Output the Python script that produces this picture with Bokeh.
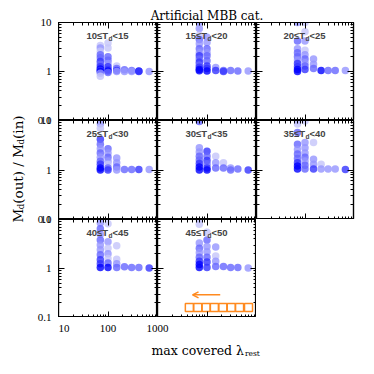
import math
from bokeh.plotting import figure
from bokeh.layouts import row, column
from bokeh.models import (LogAxis, FixedTicker, Range1d, Arrow, OpenHead, Label,
                          CustomJSTickFormatter)
from bokeh.core.properties import value
from bokeh.embed import file_html
from bokeh.resources import INLINE

# ---------------- data ----------------
title_text = "Artificial MBB cat."
td_lo = [10, 15, 20, 25, 30, 35, 40, 45]
td_hi = [15, 20, 25, 30, 35, 40, 45, 50]
lam = [70, 100, 150, 215, 300, 420, 680]   # max covered rest wavelength of each column
y_tick_vals = [10, 1, 0.1]
y_tick_text = ["10", "1", "0.1"]
x_tick_vals = [10, 100, 1000]
x_tick_text = ["10", "100", "1000"]

# per panel: one list of M_d(out)/M_d(in) per lam column, and shade index per point
p1_y = [[3.4, 3.0, 2.6, 2.2, 1.9, 1.6, 1.4, 1.25, 1.12, 1.05, 1.0, 0.92, 0.8],
        [3.8, 3.0, 2.0, 1.7, 1.45, 1.25, 1.1, 1.02, 0.95],
        [1.3, 1.15, 1.05, 1.0], [1.08, 1.0], [1.05, 1.0], [1.02, 1.0], [1.0]]
p1_s = [[4, 3, 4, 2, 2, 1, 2, 1, 0, 1, 0, 3, 4], [4, 4, 2, 2, 3, 1, 1, 0, 2],
        [4, 2, 1, 3], [2, 3], [2, 3], [0, 1], [3]]

p2_y = [[10.3, 7.5, 5.5, 4.5, 3.7, 2.9, 2.4, 2.1, 1.8, 1.55, 1.35, 1.22, 1.1, 1.04],
        [5.0, 3.9, 2.9, 2.4, 2.1, 1.65, 1.3, 1.15, 1.02],
        [1.2, 1.05], [1.05, 1.0], [1.05], [1.02], [1.02]]
p2_s = [[3, 3, 4, 2, 3, 2, 3, 1, 2, 1, 2, 1, 0, 0], [3, 3, 2, 3, 2, 2, 1, 1, 0],
        [3, 1], [2, 1], [2], [2], [3]]

p3_y = [[10.0, 4.2, 2.9, 2.4, 2.0, 1.7, 1.45, 1.25, 1.1, 1.0],
        [10.0, 6.5, 4.2, 2.7, 2.2, 1.8, 1.5, 1.3, 1.1],
        [1.8, 1.4, 1.15], [1.05], [1.05], [1.05], [1.05]]
p3_s = [[3, 2, 3, 2, 2, 3, 1, 1, 0, 0], [4, 4, 3, 4, 3, 2, 3, 2, 1],
        [3, 3, 2], [0], [2], [2], [3]]

p4_y = [[8.6, 7.0, 4.2, 3.3, 2.7, 2.2, 1.8, 1.5, 1.3, 1.1, 1.0],
        [2.7, 2.2, 1.8, 1.5, 1.3, 1.1, 1.0],
        [1.75, 1.4, 1.15, 1.0], [1.02], [1.02], [1.02], [1.02]]
p4_s = [[3, 4, 1, 2, 3, 2, 3, 2, 1, 0, 0], [2, 3, 2, 3, 4, 2, 1],
        [3, 3, 2, 3], [2], [2], [1], [3]]

p5_y = [[9.5, 2.8, 2.3, 1.9, 1.6, 1.35, 1.15, 1.0],
        [2.4, 1.9, 1.55, 1.3, 1.1, 1.0],
        [1.9, 1.4, 1.1], [1.4, 1.1], [1.1, 1.0], [1.05], [1.0]]
p5_s = [[2, 3, 3, 2, 2, 1, 0, 0], [1, 2, 1, 2, 1, 0],
        [4, 3, 2], [4, 2], [3, 2], [2], [1]]

p6_y = [[10.0, 8.5, 5.7, 3.3, 2.6, 2.1, 1.7, 1.4, 1.2, 1.05],
        [9.8, 3.6, 2.8, 2.2, 1.8, 1.5, 1.25, 1.05],
        [3.6, 1.65, 1.3, 1.05], [1.3, 1.05], [1.05], [1.05], [1.02]]
p6_s = [[3, 4, 2, 2, 3, 2, 2, 1, 0, 0], [4, 3, 3, 3, 2, 3, 2, 2],
        [4, 3, 3, 1], [4, 3], [3], [3], [1]]

p7_y = [[8.5, 6.5, 5.0, 3.8, 3.0, 2.4, 1.9, 1.5, 1.25, 1.05],
        [8.2, 3.5, 2.6, 2.0, 1.6, 1.3, 1.05],
        [2.9, 1.55, 1.25, 1.05], [1.08], [1.05], [1.05], [1.02]]
p7_s = [[3, 2, 3, 2, 3, 3, 2, 1, 1, 0], [4, 3, 4, 3, 4, 2, 0],
        [4, 4, 3, 2], [2], [2], [2], [1]]

p8_y = [[10.0, 8.0, 3.3, 2.6, 2.1, 1.7, 1.4, 1.2, 1.05],
        [5.5, 3.8, 2.8, 2.2, 1.7, 1.35, 1.05],
        [2.75, 1.8, 1.4, 1.1], [1.1], [1.05], [1.05], [1.02]]
p8_s = [[4, 4, 3, 2, 3, 2, 1, 0, 0], [4, 2, 3, 3, 2, 1, 1],
        [3, 4, 3, 2], [2], [2], [2], [3]]

# markers in last panel
sq_x = [44, 65, 96, 141, 209, 309, 455, 690]
sq_y = 0.16
arrow_x = [185, 51]
arrow_y = 0.29

panel_y = [p1_y, p2_y, p3_y, p4_y, p5_y, p6_y, p7_y, p8_y]
panel_s = [p1_s, p2_s, p3_s, p4_s, p5_s, p6_s, p7_s, p8_s]

# ---------------- style / layout ----------------
shades = ["#0000ff", "#3535ff", "#6666ff", "#9595ff", "#c4c4fa"]
ORANGE = "#ff8a1f"
SERIF = "Liberation Serif"
LABSERIF = "DejaVu Serif"
SANS = "Liberation Sans"

X0, X1 = 10, 1000
Y0, Y1 = 0.1, 10
FW = [99, 99, 97]
FH = [98, 99, 98]
LEFTW = 58          # width of the left strip (y title + y tick labels)
TITLEH = 22         # title strip above the panels
XTICKH = 18         # strip with the x tick labels
XLABH = 27          # strip with the x title
RIGHTW = sum(FW) + 6
TOTW = LEFTW + RIGHTW
row_top = [TITLEH, TITLEH + FH[0], TITLEH + FH[0] + FH[1]]
col_left = [LEFTW, LEFTW + FW[0], LEFTW + FW[0] + FW[1]]
grid_bottom = row_top[2] + FH[2]
LEFTH = grid_bottom + XTICKH

minor_y = [m * 10.0 ** e for e in (-1, 0) for m in range(2, 10)]
minor_x = [m * 10.0 ** e for e in (1, 2) for m in range(2, 10)]


def ydata(fh, px_from_top):
    return 10 ** (math.log10(Y1) - px_from_top * math.log10(Y1 / Y0) / fh)


def ypix(r, v):
    return row_top[r] + (math.log10(Y1) - math.log10(v)) * FH[r] / math.log10(Y1 / Y0)


def xpix(c, v):
    return col_left[c] + (math.log10(v) - math.log10(X0)) * FW[c] / math.log10(X1 / X0)


def blank(w, h):
    f = figure(width=w, height=h, x_range=Range1d(0, w), y_range=Range1d(0, h),
               output_backend="svg", toolbar_location=None,
               x_axis_location=None, y_axis_location=None, min_border=0)
    f.grid.visible = False
    f.outline_line_color = None
    return f


def make_panel(k, r, c):
    fw, fh = FW[c], FH[r]
    p = figure(x_axis_type="log", y_axis_type="log",
               x_range=Range1d(X0, X1), y_range=Range1d(Y0, Y1),
               frame_width=fw, frame_height=fh,
               output_backend="svg", toolbar_location=None,
               min_border_left=0, min_border_right=6 if c == 2 else 0,
               min_border_top=0, min_border_bottom=0)
    p.xgrid.visible = False
    p.ygrid.visible = False
    p.outline_line_color = "black"
    p.outline_line_width = 1.2
    p.add_layout(LogAxis(), "right")
    p.add_layout(LogAxis(), "above")
    for ax in p.axis:
        is_x = ax in p.below or ax in p.above
        ax.ticker = FixedTicker(ticks=x_tick_vals if is_x else y_tick_vals,
                                minor_ticks=minor_x if is_x else minor_y)
        ax.formatter = CustomJSTickFormatter(code="return '';")
        ax.major_tick_in = 6
        ax.major_tick_out = 0
        ax.minor_tick_in = 3
        ax.minor_tick_out = 0
        ax.axis_line_width = 1.2
        ax.major_tick_line_width = 1
        ax.minor_tick_line_width = 1
        ax.major_label_text_font_size = "0px"
        ax.major_label_text_color = None
        ax.major_label_standoff = 0

    xs, ys, cs = [], [], []
    for lv, col_y, col_s in zip(lam, panel_y[k], panel_s[k]):
        for yv, sv in zip(col_y, col_s):
            xs.append(lv)
            ys.append(yv)
            cs.append(shades[sv])
    p.scatter(xs, ys, size=7.5, fill_color=cs, line_color=None, fill_alpha=0.8)

    yb = ydata(fh, 13)
    ysub = ydata(fh, 15.5)
    p.add_layout(Label(x=100, y=yb, text=f"{td_lo[k]}\u2264T", text_font=SANS,
                       text_font_size="9.5px", text_font_style="bold",
                       text_align="right", text_baseline="alphabetic"))
    p.add_layout(Label(x=100, y=ysub, text="d", text_font=SANS,
                       text_font_size="6.5px", text_font_style="bold",
                       text_align="left", text_baseline="alphabetic", x_offset=0.5))
    p.add_layout(Label(x=100, y=yb, text=f"<{td_hi[k]}", text_font=SANS,
                       text_font_size="9.5px", text_font_style="bold",
                       text_align="left", text_baseline="alphabetic", x_offset=4.5))
    return p


positions = [(0, 0), (0, 1), (0, 2), (1, 0), (1, 1), (1, 2), (2, 0), (2, 1)]
figs = [make_panel(k, r, c) for k, (r, c) in enumerate(positions)]

p8 = figs[7]
p8.scatter(sq_x, [sq_y] * len(sq_x), marker="square", size=8, fill_color=None,
           line_color=ORANGE, line_width=1.5)
p8.add_layout(Arrow(end=OpenHead(size=6, line_color=ORANGE, line_width=1.5),
                    x_start=arrow_x[0], y_start=arrow_y, x_end=arrow_x[1], y_end=arrow_y,
                    line_color=ORANGE, line_width=1.5))

# ---- title strip (right of the left strip) ----
title_fig = blank(RIGHTW, TITLEH)
title_fig.text(x=[sum(FW) / 2 + 1], y=[TITLEH - 15], text=[title_text],
               text_font=value(LABSERIF), text_font_size=value("12px"),
               text_align="center", text_baseline="alphabetic", text_color="black")

# ---- left strip: y tick labels (spanning all rows) and y title ----
left_fig = blank(LEFTW, LEFTH)


def page_to_left(py):
    return LEFTH - py


lx, ly, lt = [], [], []
for r in range(3):
    for v, t in zip(y_tick_vals, y_tick_text):
        lx.append(LEFTW - 7)
        ly.append(page_to_left(ypix(r, v)))
        lt.append(t)
left_fig.text(x=lx, y=ly, text=lt, text_font=value(SERIF), text_font_size=value("11px"),
              text_align="right", text_baseline="middle", text_color="black")

pieces = [("M", 13.5, 0.995), ("d", 8.5, 0.640), ("(out) / M", 13.5, 4.396),
          ("d", 8.5, 0.640), ("(in)", 13.5, 1.744)]
total = sum(fs * w for _, fs, w in pieces)
center_py = row_top[0] + sum(FH) / 2 - 1
pos = center_py + total / 2
for txt, fs, w in pieces:
    sub = fs < 10
    left_fig.text(x=[17 + (3.5 if sub else 0)], y=[page_to_left(pos)], text=[txt],
                  text_font=value(LABSERIF), text_font_size=value(f"{fs}px"),
                  text_align="left", text_baseline="middle", angle=math.pi / 2,
                  text_color="black")
    pos -= fs * w

# ---- x tick label strip (below the panels) ----
xtick_fig = blank(RIGHTW, XTICKH)
for i, (v, t) in enumerate(zip(x_tick_vals, x_tick_text)):
    xtick_fig.text(x=[xpix(0, v) - LEFTW], y=[XTICKH - 10.5], text=[t],
                   text_font=value(SERIF), text_font_size=value("11px"),
                   text_align="left" if i == 0 else "center", text_baseline="middle",
                   text_color="black")

# ---- x title strip ----
xlab_fig = blank(TOTW, XLABH)
xc = col_left[1] + FW[1] / 2
xlab_fig.text(x=[xc + 37], y=[XLABH - 15], text=["max covered \u03bb"],
              text_font=value(LABSERIF), text_font_size=value("12.5px"),
              text_align="right", text_baseline="alphabetic", text_color="black")
xlab_fig.text(x=[xc + 38], y=[XLABH - 18], text=["rest"],
              text_font=value(LABSERIF), text_font_size=value("7.5px"),
              text_align="left", text_baseline="alphabetic", text_color="black")

grid = column(title_fig,
              row(figs[0], figs[1], figs[2]),
              row(figs[3], figs[4], figs[5]),
              row(figs[6], figs[7]),
              xtick_fig)
layout = column(row(left_fig, grid), xlab_fig)

open("out.html", "w").write(file_html(layout, INLINE))
